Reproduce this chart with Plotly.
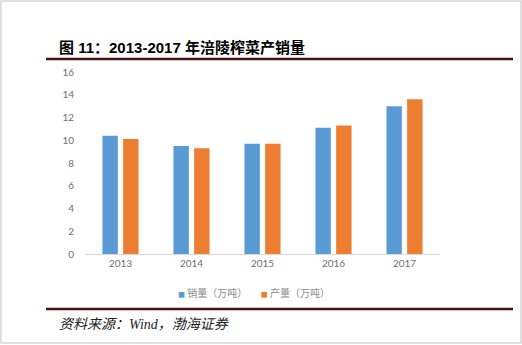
import plotly.graph_objects as go

# Fuling Zhacai sales and output, 2013-2017 (10k tonnes)
years = ["2013", "2014", "2015", "2016", "2017"]
sales = [10.4, 9.5, 9.7, 11.1, 13.0]
output = [10.1, 9.3, 9.7, 11.3, 13.6]
series_names = ["销量（万吨）", "产量（万吨）"]
series_colors = ["#5B9BD5", "#ED7D31"]
y_ticks = [0, 2, 4, 6, 8, 10, 12, 14, 16]

W, H = 522, 345
L, R, T, B = 85, 440, 72, 254  # plot area in pixels


def px(x):
    return (x - L) / (R - L)


def py(y):
    return (B - y) / (B - T)


fig = go.Figure()
for vals, name, color in zip([sales, output], series_names, series_colors):
    fig.add_trace(go.Bar(x=years, y=vals, name=name, marker_color=color,
                         marker_line_width=0, showlegend=False))

tick_font = dict(family="Lato, Noto Sans CJK SC", size=10, color="#6E6E6E")

fig.update_layout(
    width=W, height=H,
    margin=dict(l=L, r=W - R, t=T, b=H - B),
    paper_bgcolor="white", plot_bgcolor="white",
    barmode="group", bargap=0.417, bargroupgap=0.256,
    xaxis=dict(showgrid=False, showline=True, linecolor="#D9D9D9", linewidth=1,
               ticks="", tickfont=tick_font, fixedrange=True),
    yaxis=dict(range=[0, 16], tickvals=y_ticks, showgrid=False, zeroline=False,
               showline=False, ticks="", tickfont=tick_font, ticklabelstandoff=10),
    font=dict(family="Noto Sans CJK SC"),
)

# legend drawn as a single line of text with small coloured squares
legend_text = "&nbsp;&nbsp;&nbsp;&nbsp;&nbsp;&nbsp;".join(
    f'<span style="color:{c};font-size:7px">■</span>&nbsp;{n}'
    for n, c in zip(series_names, series_colors)
)
annotations = [
    dict(text="<b>图 11：2013-2017 年涪陵榨菜产销量</b>", x=px(57), y=py(47),
         xanchor="left", yanchor="middle",
         font=dict(family="Liberation Sans, Noto Sans CJK SC", size=15, color="#000000")),
    dict(text=legend_text, x=px(254), y=py(292), xanchor="center", yanchor="middle",
         font=dict(family="Noto Sans CJK SC", size=10, color="#8C8C8C")),
    dict(text="<i>资料来源：Wind，渤海证券</i>", x=px(57), y=py(324),
         xanchor="left", yanchor="middle",
         font=dict(family="Liberation Serif, Noto Sans CJK SC", size=14, color="#222222")),
]
for a in annotations:
    a.update(xref="paper", yref="paper", showarrow=False)
fig.update_layout(annotations=annotations)

rule = dict(color="#4A1010", width=2.5)
shapes = [
    dict(type="line", x0=px(46), x1=px(513), y0=py(59), y1=py(59), line=rule),
    dict(type="line", x0=px(46), x1=px(513), y0=py(309), y1=py(309), line=rule),
    dict(type="rect", x0=px(1), x1=px(521), y0=py(1), y1=py(343),
         line=dict(color="#D6D6D6", width=1.5)),
]
for s in shapes:
    s.update(xref="paper", yref="paper", layer="above")
fig.update_layout(shapes=shapes)

fig.write_html("out.html")
